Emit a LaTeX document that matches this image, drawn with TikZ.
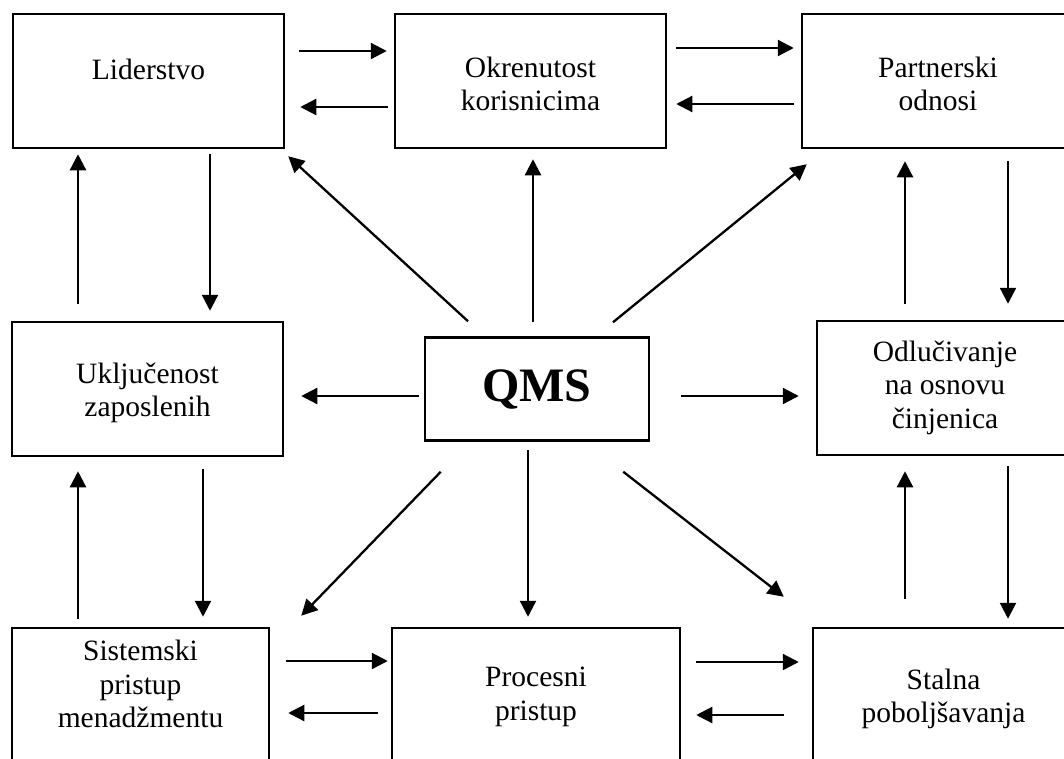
\documentclass[tikz,border=0pt]{standalone}
\usepackage{fontspec}
\setmainfont{Liberation Serif}
\usetikzlibrary{arrows.meta}

\begin{document}
\begin{tikzpicture}[>={Triangle[length=16pt,width=16pt]}, x=1pt, y=-1pt,
    box/.style={draw, line width=2.5pt, inner sep=0pt},
    txt/.style={align=center, inner sep=0pt, font=\fontsize{29.5}{33.5}\selectfont},
    arr/.style={->, line width=2.3pt}]
  \useasboundingbox[fill=white] (0,0) rectangle (1064,758);

  % frames
  \node (lid) [box, minimum width=271pt, minimum height=134pt] at (148.5,81) {};
  \node (okr) [box, minimum width=271pt, minimum height=134pt] at (530.5,81) {};
  \node (par) [box, minimum width=272pt, minimum height=134pt] at (938,81) {};
  \node (ukl) [box, minimum width=271pt, minimum height=134pt] at (147.5,389) {};
  \node (qms) [box, minimum width=224pt, minimum height=103pt] at (537,389) {};
  \node (odl) [box, minimum width=256pt, minimum height=134pt] at (945,388) {};
  \node (sis) [box, minimum width=257pt, minimum height=134pt] at (140.5,695) {};
  \node (pro) [box, minimum width=288pt, minimum height=134pt] at (536,695) {};
  \node (sta) [box, minimum width=261pt, minimum height=134pt] at (943.5,695) {};

  % texts
  \node (lidtxt) [txt] at (148.5,69) {Liderstvo};
  \node (okrtxt) [txt] at (530.5,84) {Okrenutost\\korisnicima};
  \node (partxt) [txt] at (938,84) {Partnerski\\odnosi};
  \node (ukltxt) [txt] at (147.5,393) {Uključenost\\zaposlenih};
  \node (qmstxt) [txt, font=\fontsize{48}{50}\selectfont\bfseries] at (537,389) {QMS};
  \node (odltxt) [txt] at (945,387.5) {Odlučivanje\\na osnovu\\činjenica};
  \node (sistxt) [txt] at (140.5,684) {Sistemski\\pristup\\menadžmentu};
  \node (protxt) [txt] at (536,697) {Procesni\\pristup};
  \node (statxt) [txt] at (943.5,699) {Stalna\\poboljšavanja};

  % top row
  \draw[arr, shorten <=14pt, shorten >=7pt] ([yshift=30pt]lid.east) -- ([yshift=30pt]okr.west);
  \draw[arr, shorten <=6pt, shorten >=15pt] ([yshift=-26pt]okr.west) -- ([yshift=-26pt]lid.east);
  \draw[arr, shorten <=9pt, shorten >=7pt] ([yshift=33pt]okr.east) -- ([yshift=33pt]par.west);
  \draw[arr, shorten <=7pt, shorten >=9pt] ([yshift=-23pt]par.west) -- ([yshift=-23pt]okr.east);

  % bottom row
  \draw[arr, shorten <=16pt, shorten >=3pt] ([yshift=34pt]sis.east) -- ([yshift=34pt]pro.west);
  \draw[arr, shorten <=13pt, shorten >=18pt] ([yshift=-18pt]pro.west) -- ([yshift=-18pt]sis.east);
  \draw[arr, shorten <=15pt, shorten >=13pt] ([yshift=33pt]pro.east) -- ([yshift=33pt]sta.west);
  \draw[arr, shorten <=28pt, shorten >=15pt] ([yshift=-20pt]sta.west) -- ([yshift=-20pt]pro.east);

  % middle row
  \draw[arr, shorten <=5pt, shorten >=17pt] ([yshift=-7pt]qms.west) -- ([yshift=-7pt]ukl.east);
  \draw[arr, shorten <=31pt, shorten >=17pt] ([yshift=-7pt]qms.east) -- ([yshift=-8pt]odl.west);

  % left column
  \draw[arr, shorten <=17pt, shorten >=5pt] ([xshift=-69.5pt]ukl.north) -- ([xshift=-70.5pt]lid.south);
  \draw[arr, shorten <=5pt, shorten >=10pt] ([xshift=61.5pt]lid.south) -- ([xshift=62.5pt]ukl.north);
  \draw[arr, shorten <=8pt, shorten >=14pt] ([xshift=-62.5pt]sis.north) -- ([xshift=-69.5pt]ukl.south);
  \draw[arr, shorten <=12pt, shorten >=10pt] ([xshift=55.5pt]ukl.south) -- ([xshift=62.5pt]sis.north);

  % centre column
  \draw[arr, shorten <=14pt, shorten >=10pt] ([xshift=-4pt]qms.north) -- ([xshift=2.5pt]okr.south);
  \draw[arr, shorten <=8pt, shorten >=10pt] ([xshift=-9pt]qms.south) -- ([xshift=-8pt]pro.north);

  % right column
  \draw[arr, shorten <=16pt, shorten >=12pt] ([xshift=-40pt]odl.north) -- ([xshift=-33pt]par.south);
  \draw[arr, shorten <=12pt, shorten >=16pt] ([xshift=70pt]par.south) -- ([xshift=63pt]odl.north);
  \draw[arr, shorten <=28pt, shorten >=15pt] ([xshift=-38.5pt]sta.north) -- ([xshift=-40pt]odl.south);
  \draw[arr, shorten <=10pt, shorten >=8pt] ([xshift=63pt]odl.south) -- ([xshift=64.5pt]sta.north);

  % diagonals
  \draw[arr] ([shift={(-69,-15)}]qms.north) -- ([shift={(3,7)}]lid.south east);
  \draw[arr] ([shift={(76,-14)}]qms.north) -- ([shift={(6,15)}]par.south west);
  \draw[arr] ([shift={(17,30)}]qms.south west) -- ([shift={(31,-11)}]sis.north east);
  \draw[arr] ([shift={(-27,30)}]qms.south east) -- ([shift={(-28,-30)}]sta.north west);
\end{tikzpicture}
\end{document}
